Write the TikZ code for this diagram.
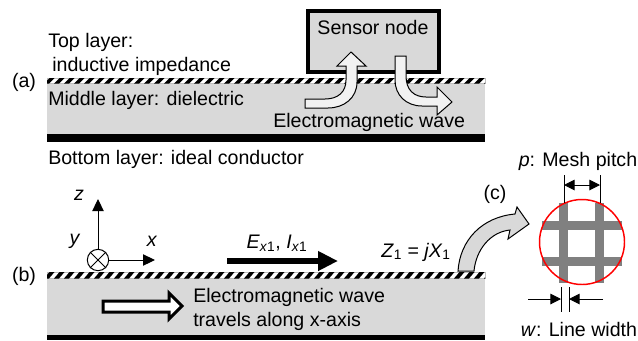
\documentclass[tikz,border=0pt]{standalone}
\usepackage{fontspec}
\setmainfont{Liberation Sans}
\usetikzlibrary{arrows.meta}
\definecolor{layergray}{HTML}{D9D9D9}
\definecolor{wavewhite}{HTML}{F2F2F2}
\definecolor{meshgray}{HTML}{808080}
\tikzset{
    lbl/.style={inner sep=0pt, font=\fontsize{14.7}{17}\selectfont},
    lblleft/.style={lbl, anchor=west},
    wave/.style={draw=black, line width=0.75pt, fill=wavewhite, line join=miter},
    axis/.style={line width=0.75pt, -{Triangle[length=9pt, width=8.5pt]}},
    dim/.style={line width=0.75pt, -{Triangle[length=8pt, width=8pt]}},
    meshbar/.style={fill=meshgray}
}
% one layered board: hatch strip, dielectric, ground plane
\newcommand{\board}[4]{
    \fill[layergray] (47, #2) rectangle (485, #3);
    \fill[black] (47, #3) rectangle (485, #4);
    \draw[gray!50, line width=0.4pt, fill=white] (47, #1) rectangle (485, #2);
    \begin{scope}
        \clip (47, #1) rectangle (485, #2);
        \foreach \i in {0, ..., 44} {
            \fill[black] ({44 + 10*\i}, #2) -- ({49 + 10*\i}, #2) -- ({54.5 + 10*\i}, #1) -- ({49.5 + 10*\i}, #1) -- cycle;
        }
    \end{scope}
}
\begin{document}
\begin{tikzpicture}[x=0.75pt, y=-0.75pt]
    \useasboundingbox (0, 0) rectangle (638, 340);

    % (a)
    \board{78}{83.5}{134}{142}
    \draw[black, line width=3pt, fill=layergray] (308, 11) rectangle (439, 72);
    \node[lbl] (sensor) at (373, 27) {Sensor node};

    \draw[wave] (305, 99) -- (325, 99) .. controls (338, 99) and (346, 92) .. (346, 80) -- (346, 66) -- (337, 66) -- (351, 52) -- (366, 66) -- (357, 66) -- (357, 82) .. controls (357, 98) and (344, 108) .. (328, 108) -- (305, 108) -- cycle;
    \draw[wave] (395, 56) -- (406, 56) -- (406, 76) .. controls (406, 90) and (414, 97) .. (426, 97) -- (437, 97) -- (437, 87) -- (452, 102) -- (437, 115) -- (437, 106) -- (422, 106) .. controls (406, 106) and (395, 95) .. (395, 80) -- cycle;

    \node[lblleft] (toplayer) at (48, 42) {Top layer:};
    \node[lblleft] (topimp) at (52, 66) {inductive impedance};
    \node[lbl] (laba) at (24, 82) {(a)};
    \node[lblleft] (midlayer) at (48, 100) {Middle layer: dielectric};
    \node[lblleft] (wavea) at (273, 122) {Electromagnetic wave};
    \node[lblleft] (botlayer) at (48, 159) {Bottom layer: ideal conductor};

    % (b)
    \board{272}{278.5}{335}{340}
    \node[lbl] (labb) at (24, 276) {(b)};

    \node[circle, draw, line width=0.75pt, fill=white, minimum size=16pt, inner sep=0pt] (origin) at (98, 260) {};
    \draw[line width=0.75pt] (origin.north west) -- (origin.south east);
    \draw[line width=0.75pt] (origin.north east) -- (origin.south west);
    \coordinate (ztip) at (98, 199);
    \coordinate (xtip) at (155, 260);
    \draw[axis] (origin) -- (ztip);
    \draw[axis] (origin) -- (xtip);
    \node[lbl] (zlab) at (79, 195) {\textit{z}};
    \node[lbl] (ylab) at (75, 241) {\textit{y}};
    \node[lbl] (xlab) at (152, 241) {\textit{x}};

    \node[lbl] (elab) at (277, 243) {\textit{E}\textsubscript{\textit{x}1}, \textit{I}\textsubscript{\textit{x}1}};
    \coordinate (estart) at (227, 261);
    \coordinate (eend) at (338, 261);
    \draw[line width=4.5pt, -{Triangle[length=15pt, width=14pt]}] (estart) -- (eend);

    \draw[line width=2.25pt, fill=white, line join=miter] (103, 301) -- (169, 301) -- (169, 293) -- (182, 306) -- (169, 319) -- (169, 312) -- (103, 312) -- cycle;
    \node[lblleft] (waveb) at (193, 297) {Electromagnetic wave};
    \node[lblleft] (wavec) at (193, 321) {travels along x-axis};
    \node[lbl] (zone) at (416, 252) {\textit{Z}\textsubscript{1} = \textit{jX}\textsubscript{1}};

    % (c)
    \draw[wave, fill=layergray] (458, 271) .. controls (460, 240) and (482, 217) .. (515, 214) -- (517, 207) -- (529, 224) -- (508, 239) -- (510, 230) .. controls (490, 232) and (476, 250) .. (474, 271) -- cycle;
    \node[lbl] (labc) at (495, 194) {(c)};

    \draw[white, fill=white] (582, 242) circle (42.5);
    \foreach \px in {559, 595} {
        \fill[meshbar] (\px, 203) rectangle ({\px + 9}, 283);
    }
    \foreach \py in {221, 257} {
        \fill[meshbar] (542, \py) rectangle (622, {\py + 9});
    }
    \draw[red, line width=1.1pt] (582, 242) circle (42.5);

    \coordinate (pltop) at (564, 175);
    \coordinate (plbot) at (564, 203);
    \coordinate (prtop) at (600, 175);
    \coordinate (prbot) at (600, 203);
    \coordinate (pl) at (564, 185);
    \coordinate (pr) at (600, 185);
    \draw[line width=0.75pt] (pltop) -- (plbot);
    \draw[line width=0.75pt] (prtop) -- (prbot);
    \draw[line width=0.75pt, {Triangle[length=8pt, width=8pt]}-{Triangle[length=8pt, width=8pt]}] (pl) -- (pr);
    \node[lbl] (plab) at (578, 161) {\textit{p}: Mesh pitch};

    \coordinate (wltop) at (561, 287);
    \coordinate (wlbot) at (561, 312);
    \coordinate (wrtop) at (569, 287);
    \coordinate (wrbot) at (569, 312);
    \coordinate (wlstart) at (528, 299);
    \coordinate (wl) at (561, 299);
    \coordinate (wrstart) at (603, 299);
    \coordinate (wr) at (569, 299);
    \draw[line width=0.75pt] (wltop) -- (wlbot);
    \draw[line width=0.75pt] (wrtop) -- (wrbot);
    \draw[dim] (wlstart) -- (wl);
    \draw[dim] (wrstart) -- (wr);
    \node[lbl] (wlab) at (579, 329) {\textit{w}: Line width};
\end{tikzpicture}
\end{document}
